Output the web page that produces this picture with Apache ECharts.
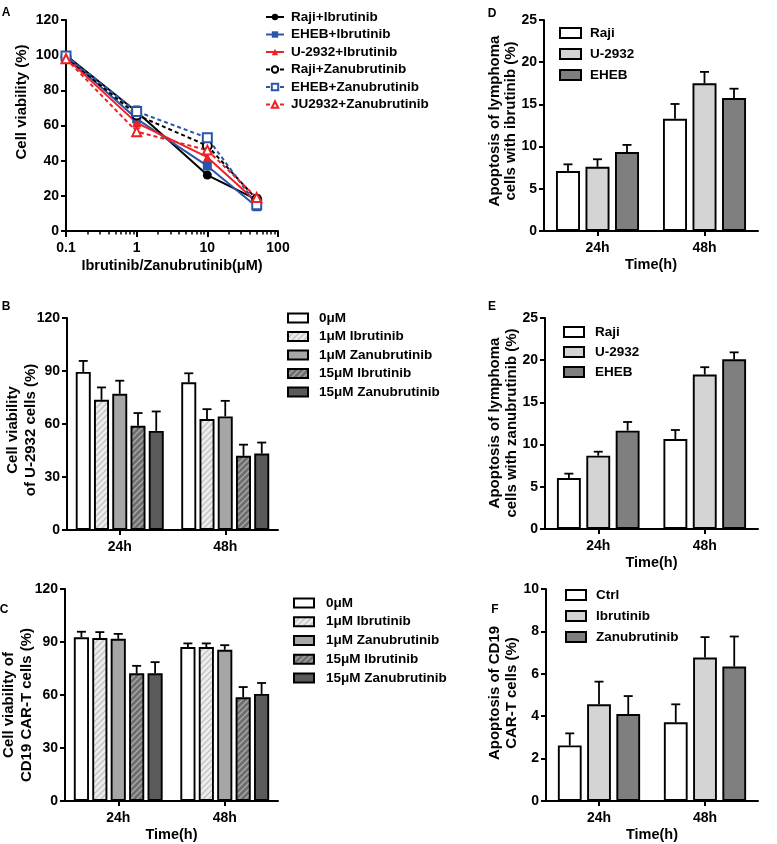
<!DOCTYPE html>
<html><head><meta charset="utf-8">
<script src="https://cdn.jsdelivr.net/npm/echarts@6/dist/echarts.min.js"></script>
<style>html,body{margin:0;padding:0;background:#fff}#c{width:777px;height:844px}</style>
</head><body><div id="c"></div>
<script>
// ---------- Panel A ----------
const aNames = ['Raji+Ibrutinib', 'EHEB+Ibrutinib', 'U-2932+Ibrutinib', 'Raji+Zanubrutinib', 'EHEB+Zanubrutinib', 'JU2932+Zanubrutinib'];
const concA = [0.1, 1, 10, 50];
const aTicks = [0.1, 1, 10, 100];
const rajiIbr = [100, 67.8, 31.8, 17.8];   const rajiIbrErr = [1, 2, 1, 2];
const ehebIbr = [99.5, 63.8, 37, 13.8];    const ehebIbrErr = [1.5, 3, 2, 1.5];
const u2932Ibr = [98.5, 61.5, 42, 16.5];   const u2932IbrErr = [1, 2, 2.5, 1.5];
const rajiZan = [99, 66, 48.5, 18];        const rajiZanErr = [1, 2, 2.5, 2];
const ehebZan = [99.5, 68, 53, 15];        const ehebZanErr = [1.5, 3, 2, 1.5];
const ju2932Zan = [98, 56.5, 46, 19];      const ju2932ZanErr = [1, 2, 2, 1.5];
// ---------- Panels B, C ----------
const timeCats = ['24h', '48h'];
const bcNames = ['0μM', '1μM Ibrutinib', '1μM Zanubrutinib', '15μM Ibrutinib', '15μM Zanubrutinib'];
const bVals = [[89.5, 83.6], [73.7, 62.8], [77.1, 64.3], [59.0, 42.0], [56.1, 43.3]];
const bErrs = [[6.2, 5.1], [7.0, 5.6], [7.4, 8.8], [7.2, 6.3], [11.0, 6.2]];
const cVals = [[92.7, 87.1], [92.2, 87.1], [91.8, 85.6], [72.3, 58.7], [72.3, 60.6]];
const cErrs = [[3.1, 2.1], [3.4, 2.1], [2.8, 2.6], [4.2, 5.8], [6.3, 6.2]];
// ---------- Panels D, E, F ----------
const deNames = ['Raji', 'U-2932', 'EHEB'];
const dVals = [[7.1, 13.3], [7.6, 17.5], [9.36, 15.76]];
const dErrs = [[0.8, 1.75], [0.9, 1.35], [0.84, 1.1]];
const eVals = [[6.04, 10.66], [8.69, 18.3], [11.65, 20.1]];
const eErrs = [[0.52, 1.07], [0.47, 0.87], [1.03, 0.83]];
const fNames = ['Ctrl', 'Ibrutinib', 'Zanubrutinib'];
const fVals = [[2.62, 3.71], [4.56, 6.77], [4.1, 6.34]];
const fErrs = [[0.57, 0.85], [1.07, 0.96], [0.85, 1.42]];

const FONT = '"Liberation Sans", Arial, sans-serif';

function hatch(base, line) {
  const s = 6, c = document.createElement('canvas');
  c.width = s; c.height = s;
  const g = c.getContext('2d');
  g.fillStyle = base; g.fillRect(0, 0, s, s);
  g.strokeStyle = line; g.lineWidth = 1.4;
  g.beginPath();
  g.moveTo(0, s); g.lineTo(s, 0);
  g.moveTo(-1, 1); g.lineTo(1, -1);
  g.moveTo(s - 1, s + 1); g.lineTo(s + 1, s - 1);
  g.stroke();
  return { image: c, repeat: 'repeat' };
}
const bcColors = ['#ffffff', hatch('#ededed', '#c4c4c4'), '#a6a6a6', hatch('#6e6e6e', '#a8a8a8'), '#5a5a5a'];
const defColors = ['#ffffff', '#d4d4d4', '#7f7f7f'];

const axisLine = { show: true, lineStyle: { color: '#000', width: 2 } };
const axisTick = { show: true, inside: false, length: 5, lineStyle: { color: '#000', width: 2 } };
const lab = { color: '#000', fontWeight: 'bold', fontSize: 14, fontFamily: FONT };

function yAx(gi, max, interval) {
  return { type: 'value', gridIndex: gi, min: 0, max: max, interval: interval,
    axisLine: axisLine, axisTick: axisTick, splitLine: { show: false },
    axisLabel: Object.assign({ margin: 7 }, lab) };
}
function catAx(gi, name) {
  return { type: 'category', gridIndex: gi, data: timeCats,
    axisLine: axisLine, axisTick: Object.assign({ alignWithLabel: true }, axisTick),
    axisLabel: Object.assign({ margin: 10 }, lab),
    name: name || '', nameLocation: 'middle', nameGap: 26,
    nameTextStyle: { color: '#000', fontWeight: 'bold', fontSize: 14.5, fontFamily: FONT } };
}

function barErr(xi, yi, vals, errs, idx, n, cg, bg) {
  return { type: 'custom', xAxisIndex: xi, yAxisIndex: yi, z: 5, silent: true,
    data: vals.map((v, k) => [k, v, errs[k]]),
    renderItem: function (params, api) {
      const k = api.value(0), v = api.value(1), e = api.value(2);
      const p0 = api.coord([k, v]), p1 = api.coord([k, v + e]);
      const band = api.size([1, 0])[0];
      const avail = band * (1 - cg);
      const bw = avail / (n + (n - 1) * bg);
      const x = p0[0] - avail / 2 + idx * bw * (1 + bg) + bw / 2;
      const cap = 4.5;
      const st = { stroke: '#000', lineWidth: 1.8 };
      return { type: 'group', children: [
        { type: 'line', shape: { x1: x, y1: p0[1], x2: x, y2: p1[1] }, style: st },
        { type: 'line', shape: { x1: x - cap, y1: p1[1], x2: x + cap, y2: p1[1] }, style: st }
      ] };
    } };
}
function lineErr(xi, yi, xs, vals, errs, color) {
  return { type: 'custom', xAxisIndex: xi, yAxisIndex: yi, z: 3, silent: true,
    data: xs.map((x, k) => [x, vals[k], errs[k]]),
    renderItem: function (params, api) {
      const x = api.value(0), v = api.value(1), e = api.value(2);
      const lo = api.coord([x, v - e]), hi = api.coord([x, v + e]);
      const st = { stroke: color, lineWidth: 1.5 };
      const c = 3.5;
      return { type: 'group', children: [
        { type: 'line', shape: { x1: lo[0], y1: lo[1], x2: hi[0], y2: hi[1] }, style: st },
        { type: 'line', shape: { x1: hi[0] - c, y1: hi[1], x2: hi[0] + c, y2: hi[1] }, style: st },
        { type: 'line', shape: { x1: lo[0] - c, y1: lo[1], x2: lo[0] + c, y2: lo[1] }, style: st }
      ] };
    } };
}

const series = [];
// Panel A lines
const aSeries = [
  [aNames[0], rajiIbr, rajiIbrErr, '#000000', 'solid', 'circle'],
  [aNames[1], ehebIbr, ehebIbrErr, '#2c55a6', 'solid', 'rect'],
  [aNames[2], u2932Ibr, u2932IbrErr, '#ec2227', 'solid', 'triangle'],
  [aNames[3], rajiZan, rajiZanErr, '#000000', 'dashed', 'emptyCircle'],
  [aNames[4], ehebZan, ehebZanErr, '#2c55a6', 'dashed', 'emptyRect'],
  [aNames[5], ju2932Zan, ju2932ZanErr, '#ec2227', 'dashed', 'emptyTriangle']
];
aSeries.forEach(s => {
  series.push({ type: 'line', name: s[0], xAxisIndex: 0, yAxisIndex: 0,
    data: concA.map((x, k) => [x, s[1][k]]),
    symbol: s[5], symbolSize: 9, showSymbol: true,
    lineStyle: { color: s[3], width: 2, type: s[4] === 'dashed' ? [4, 3] : 'solid' },
    itemStyle: { color: s[3], borderColor: s[3], borderWidth: s[5].indexOf('empty') === 0 ? 1.6 : 0 },
    z: 4 });
  series.push(lineErr(0, 0, concA, s[1], s[2], s[3]));
});
// Panels B, C
const BC_CG = 0.166, BC_BG = 0.217;
[[2, 1, bVals, bErrs], [3, 2, cVals, cErrs]].forEach(p => {
  bcNames.forEach((nm, i) => {
    series.push({ type: 'bar', name: nm, xAxisIndex: p[0], yAxisIndex: p[1], data: p[2][i],
      barCategoryGap: (BC_CG * 100) + '%', barGap: (BC_BG * 100) + '%',
      itemStyle: { color: bcColors[i], borderColor: '#000', borderWidth: 1.9 } });
    series.push(barErr(p[0], p[1], p[2][i], p[3][i], i, 5, BC_CG, BC_BG));
  });
});
// Panels D, E, F
const DE_CG = 0.224, DE_BG = 0.23;
[[4, 3, dVals, dErrs, deNames], [5, 4, eVals, eErrs, deNames], [6, 5, fVals, fErrs, fNames]].forEach(p => {
  p[4].forEach((nm, i) => {
    series.push({ type: 'bar', name: nm, xAxisIndex: p[0], yAxisIndex: p[1], data: p[2][i],
      barCategoryGap: (DE_CG * 100) + '%', barGap: (DE_BG * 100) + '%',
      itemStyle: { color: defColors[i], borderColor: '#000', borderWidth: 1.9 } });
    series.push(barErr(p[0], p[1], p[2][i], p[3][i], i, 3, DE_CG, DE_BG));
  });
});

const minorA = [];
for (let d = 0.1; d < 50; d *= 10) for (let m = 2; m <= 9; m++) minorA.push(+(d * m).toPrecision(3));

function leg(names, left, top, gap, w, h, padL, isLine) {
  const o = { data: names, orient: 'vertical', left: left, top: top, padding: 0,
    itemGap: gap, itemWidth: w, itemHeight: h, selectedMode: false,
    textStyle: { color: '#000', fontWeight: 'bold', fontSize: 13.5, fontFamily: FONT,
      lineHeight: 16, padding: [0, 0, 0, padL] } };
  if (!isLine) o.icon = 'rect';
  return o;
}
function vText(x, y, text, lh) {
  return { type: 'text', x: x, y: y, rotation: Math.PI / 2,
    style: { text: text, font: 'bold 15px ' + FONT, fill: '#000',
      align: 'center', verticalAlign: 'middle', textAlign: 'center', textVerticalAlign: 'middle',
      lineHeight: lh } };
}
function letter(x, y, t) {
  return { type: 'text', x: x, y: y,
    style: { text: t, font: 'bold 12px ' + FONT, fill: '#000',
      align: 'center', verticalAlign: 'middle', textAlign: 'center', textVerticalAlign: 'middle' } };
}

const option = {
  animation: false,
  backgroundColor: '#fff',
  grid: [
    { left: 66, top: 20, width: 212, height: 211 },
    { left: 67, top: 318, width: 211, height: 212 },
    { left: 65, top: 589, width: 213, height: 212 },
    { left: 544, top: 20, width: 214, height: 211 },
    { left: 545, top: 318, width: 213, height: 211 },
    { left: 546, top: 589, width: 212, height: 212 }
  ],
  xAxis: [
    { type: 'log', gridIndex: 0, logBase: 10, min: aTicks[0], max: aTicks[aTicks.length - 1],
      axisLine: axisLine, axisTick: Object.assign({}, axisTick, { length: 6 }), splitLine: { show: false },
      axisLabel: Object.assign({ margin: 10, formatter: v => String(+(+v).toPrecision(3)) }, lab),
      name: 'Ibrutinib/Zanubrutinib(μM)', nameLocation: 'middle', nameGap: 27,
      nameTextStyle: { color: '#000', fontWeight: 'bold', fontSize: 14.5, fontFamily: FONT } },
    { type: 'log', gridIndex: 0, logBase: 10, min: aTicks[0], max: aTicks[aTicks.length - 1], position: 'bottom',
      axisLine: { show: false }, splitLine: { show: false }, axisLabel: { show: false },
      axisTick: { show: true, length: 3.5, customValues: minorA, lineStyle: { color: '#000', width: 1.5 } } },
    catAx(1, ''),
    catAx(2, 'Time(h)'),
    catAx(3, 'Time(h)'),
    catAx(4, 'Time(h)'),
    catAx(5, 'Time(h)')
  ],
  yAxis: [
    yAx(0, 120, 20), yAx(1, 120, 30), yAx(2, 120, 30),
    yAx(3, 25, 5), yAx(4, 25, 5), yAx(5, 10, 2)
  ],
  legend: [
    leg(aNames, 265, 9, 1.5, 18, 8, 2, true),
    leg(bcNames, 287, 310, 2.5, 20, 9, 6, false),
    leg(bcNames, 293, 595, 2.75, 20, 9, 7, false),
    leg(deNames, 559, 25, 5, 21, 10, 4, false),
    leg(deNames, 563, 324, 4, 20, 10, 6, false),
    leg(fNames, 565, 587, 5, 20, 10, 5, false)
  ],
  graphic: [
    letter(6, 13, 'A'), letter(6, 307, 'B'), letter(4, 610, 'C'),
    letter(492, 14, 'D'), letter(492, 307, 'E'), letter(495, 610, 'F'),
    vText(22, 102, 'Cell viability (%)', 18),
    vText(22, 430, 'Cell viability\nof U-2932 cells (%)', 18),
    vText(18, 705, 'Cell viability of\nCD19 CAR-T cells (%)', 18),
    vText(503, 121, 'Apoptosis of lymphoma\ncells with ibrutinib (%)', 16),
    vText(503, 423, 'Apoptosis of lymphoma\ncells with zanubrutinib (%)', 17),
    vText(503, 693, 'Apoptosis of CD19\nCAR-T cells (%)', 17)
  ],
  series: series
};
const chart = echarts.init(document.getElementById('c'), null, { renderer: 'canvas' });
chart.setOption(option);
</script></body></html>
